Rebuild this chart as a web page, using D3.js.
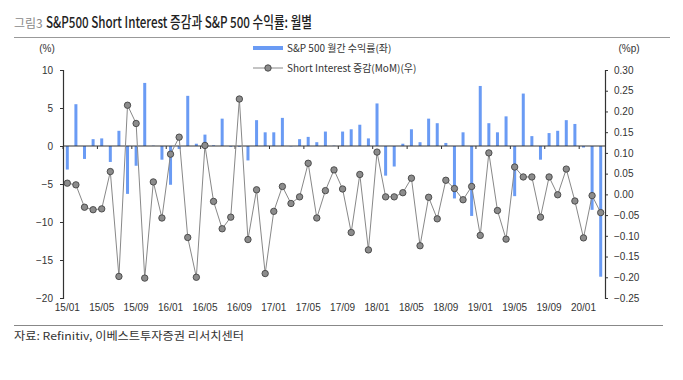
<!DOCTYPE html>
<html><head><meta charset="utf-8">
<script src="https://cdn.jsdelivr.net/npm/d3@7/dist/d3.min.js"></script>
<style>
html,body{margin:0;padding:0;background:#fff;}
svg{display:block;font-family:"Liberation Sans","Noto Sans CJK KR",Arial,sans-serif;}
</style></head>
<body>
<svg id="c" width="683" height="380"></svg>
<script>
const months = ["15/01","15/02","15/03","15/04","15/05","15/06","15/07","15/08","15/09","15/10","15/11","15/12",
"16/01","16/02","16/03","16/04","16/05","16/06","16/07","16/08","16/09","16/10","16/11","16/12",
"17/01","17/02","17/03","17/04","17/05","17/06","17/07","17/08","17/09","17/10","17/11","17/12",
"18/01","18/02","18/03","18/04","18/05","18/06","18/07","18/08","18/09","18/10","18/11","18/12",
"19/01","19/02","19/03","19/04","19/05","19/06","19/07","19/08","19/09","19/10","19/11","19/12",
"20/01","20/02","20/03"];
const spReturn = [-3.1,5.5,-1.7,0.9,1.0,-2.1,2.0,-6.3,-2.6,8.3,0.05,-1.8,
-5.1,-0.4,6.6,0.3,1.5,0.1,3.6,-0.1,-0.1,-1.9,3.4,1.8,
1.8,3.7,-0.05,0.9,1.2,0.5,1.9,0.05,1.9,2.2,2.8,1.0,
5.6,-3.9,-2.7,0.3,2.2,0.5,3.6,3.0,0.4,-6.9,1.8,-9.2,
7.9,3.0,1.8,3.9,-6.6,6.9,1.3,-1.8,1.7,2.0,3.4,2.9,
-0.2,-8.4,-17.2];
const shortInterest = [0.027,0.023,-0.031,-0.037,-0.035,0.055,-0.198,0.215,0.171,-0.202,0.030,-0.057,
0.097,0.138,-0.104,-0.200,0.118,-0.017,-0.083,-0.055,0.230,-0.109,0.011,-0.191,
-0.041,0.019,-0.022,-0.006,0.075,-0.057,0.009,0.059,0.013,-0.092,0.048,-0.134,
0.102,-0.006,-0.006,0.004,0.039,-0.124,-0.007,-0.059,0.034,0.014,-0.013,0.019,
-0.099,0.100,-0.039,-0.108,0.066,0.042,0.042,-0.055,0.042,-0.001,0.061,-0.016,
-0.105,-0.003,-0.044];
const leftTicks = [10,5,0,-5,-10,-15,-20];
const rightTicks = [0.30,0.25,0.20,0.15,0.10,0.05,0.00,-0.05,-0.10,-0.15,-0.20,-0.25];
const xTickLabels = ["15/01","15/05","15/09","16/01","16/05","16/09","17/01","17/05","17/09","18/01","18/05","18/09","19/01","19/05","19/09","20/01"];

const svg = d3.select("#c");
const L = 63, R = 605, T = 70, B = 298;
const x = d3.scaleBand().domain(months).range([L, R]);
const yL = d3.scaleLinear().domain([-20, 10]).range([B, T]);
const yR = d3.scaleLinear().domain([-0.25, 0.30]).range([B, T]);
const txt = "#333";

// title
svg.append("text").attr("x", 14).attr("y", 28).attr("font-size", 12).attr("fill", "#8a8a8a")
  .attr("font-family", "'Noto Sans CJK KR',sans-serif").text("그림3");
svg.append("text").attr("x", 46).attr("y", 28).attr("font-size", 15.5).attr("fill", "#222")
  .attr("font-family", "'Noto Sans CJK KR',sans-serif").attr("font-weight", 500)
  .attr("textLength", 266).attr("lengthAdjust", "spacingAndGlyphs")
  .text("S&P500 Short Interest 증감과 S&P 500 수익률: 월별");
svg.append("line").attr("x1", 14).attr("x2", 670).attr("y1", 37.5).attr("y2", 37.5).attr("stroke", "#999").attr("stroke-width", 1.2);

// unit labels
svg.append("text").attr("x", 47).attr("y", 52).attr("text-anchor", "middle").attr("font-size", 10).attr("fill", txt).text("(%)");
svg.append("text").attr("x", 629).attr("y", 52).attr("text-anchor", "middle").attr("font-size", 10).attr("fill", txt).text("(%p)");

// legend
const lg = svg.append("g").attr("font-size", 10).attr("fill", txt).attr("font-family", "'Noto Sans CJK KR',sans-serif");
lg.append("rect").attr("x", 253).attr("y", 46).attr("width", 30).attr("height", 4).attr("fill", "#6a9bf4");
lg.append("text").attr("x", 287).attr("y", 52).text("S&P 500 월간 수익률(좌)");
lg.append("line").attr("x1", 253).attr("x2", 283).attr("y1", 68).attr("y2", 68).attr("stroke", "#888");
lg.append("circle").attr("cx", 268).attr("cy", 68).attr("r", 3.2).attr("fill", "#8c8c8c").attr("stroke", "#444").attr("stroke-width", 0.9);
lg.append("text").attr("x", 287).attr("y", 72).text("Short Interest 증감(MoM)(우)");

// bars
const bw = 3;
svg.append("g").selectAll("rect").data(spReturn).join("rect")
  .attr("x", (d, i) => x(months[i]) + x.bandwidth() / 2 - bw / 2)
  .attr("width", bw)
  .attr("y", d => yL(Math.max(0, d)))
  .attr("height", d => Math.abs(yL(d) - yL(0)))
  .attr("fill", "#6a9bf4");

// zero line + ticks
svg.append("line").attr("x1", L).attr("x2", R).attr("y1", yL(0)).attr("y2", yL(0)).attr("stroke", "#333").attr("stroke-width", 1.2);
svg.append("g").selectAll("line").data(xTickLabels).join("line")
  .attr("x1", d => x(d)).attr("x2", d => x(d))
  .attr("y1", yL(0)).attr("y2", yL(0) + 3).attr("stroke", "#333");

// axes
const ga = svg.append("g").attr("transform", `translate(${L},0)`)
  .call(d3.axisLeft(yL).tickValues(leftTicks).tickSize(3).tickPadding(7));
const gb = svg.append("g").attr("transform", `translate(${R},0)`)
  .call(d3.axisRight(yR).tickValues(rightTicks).tickSize(3).tickPadding(6).tickFormat(d3.format(".2f")));
[ga, gb].forEach(g => {
  g.select(".domain").attr("stroke", "#333").attr("stroke-width", 1.2);
  g.selectAll(".tick line").attr("stroke", "#333");
  g.selectAll("text").attr("font-size", 10).attr("fill", txt).attr("font-family", "'Liberation Sans',Arial,sans-serif");
});

// x labels
svg.append("g").selectAll("text").data(xTickLabels).join("text")
  .attr("x", d => x(d) + x.bandwidth() / 2).attr("y", 311)
  .attr("text-anchor", "middle").attr("font-size", 10).attr("fill", txt).text(d => d);

// line
const line = d3.line().x((d, i) => x(months[i]) + x.bandwidth() / 2).y(d => yR(d));
svg.append("path").datum(shortInterest).attr("d", line).attr("fill", "none").attr("stroke", "#888").attr("stroke-width", 1);
svg.append("g").selectAll("circle").data(shortInterest).join("circle")
  .attr("cx", (d, i) => x(months[i]) + x.bandwidth() / 2).attr("cy", d => yR(d))
  .attr("r", 3.2).attr("fill", "#8c8c8c").attr("stroke", "#444").attr("stroke-width", 0.9);

// footer
svg.append("line").attr("x1", 14).attr("x2", 663).attr("y1", 325.5).attr("y2", 325.5).attr("stroke", "#888").attr("stroke-width", 1.2);
svg.append("text").attr("x", 14).attr("y", 340).attr("font-size", 11).attr("fill", txt)
  .attr("font-family", "'Noto Sans CJK KR',sans-serif")
  .attr("textLength", 230).attr("lengthAdjust", "spacingAndGlyphs")
  .text("자료: Refinitiv, 이베스트투자증권 리서치센터");
</script>
</body></html>
